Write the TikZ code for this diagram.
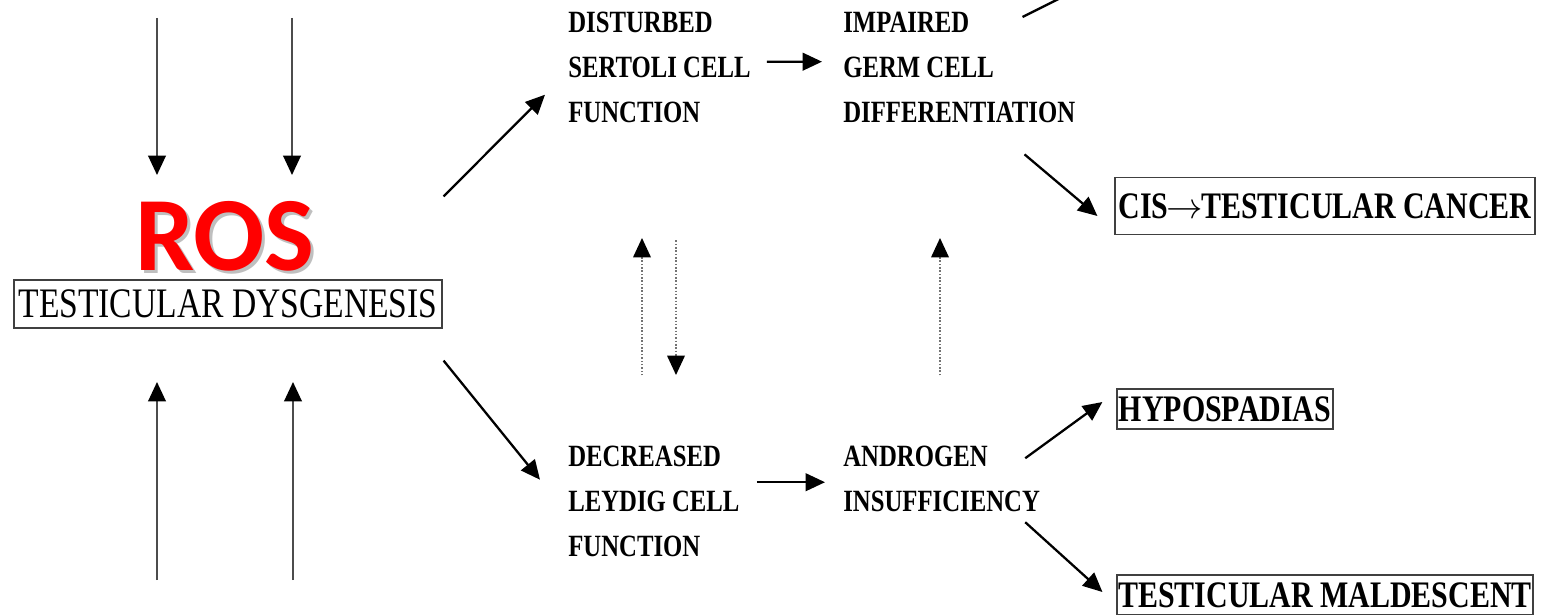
\documentclass[tikz,border=0pt]{standalone}
\usepackage{fontspec}
\setmainfont{Liberation Serif}
\newfontfamily\flowfont[FakeStretch=0.8]{Liberation Serif}
\newfontfamily\rosfont{Carlito}
\usetikzlibrary{arrows.meta,calc}
\definecolor{rosred}{RGB}{255,0,0}
\tikzset{
  flow/.style={anchor=north west, inner sep=0pt, align=left,
    font=\flowfont\bfseries\fontsize{17.6}{25.6}\selectfont},
  outcome/.style={draw=black!75, line width=0.7pt, inner sep=0pt,
    font=\flowfont\bfseries\fontsize{21.3}{24}\selectfont},
  arr/.style={line width=1.3pt, -{Triangle[length=11pt,width=10pt]}},
  sidearr/.style={line width=1.1pt, draw=black!70, -{Triangle[length=11pt,width=10pt,color=black]}},
  dotarr/.style={line width=0.9pt, draw=black!55, densely dotted, -{Triangle[length=11pt,width=10pt,color=black]}},
  rostext/.style={font=\rosfont\bfseries\fontsize{60}{60}\selectfont, inner sep=0pt, text depth=0pt},
}
\begin{document}
\begin{tikzpicture}[x=0.02cm,y=-0.02cm]
\useasboundingbox (0,0) rectangle (1559,615);
\fill[white] (0,0) rectangle (1559,615);

% ROS with soft shadow
\node[rostext, text=black!25] at (228,239) {ROS};
\node (ros) [rostext, text=rosred] at (225,236) {ROS};

% central box
\node (td) [draw=black!75, line width=0.7pt, minimum width=8.56cm, minimum height=0.96cm, inner sep=0pt,
  font=\flowfont\fontsize{23.9}{26}\selectfont] at (228,304) {TESTICULAR DYSGENESIS};

% flow text blocks
\node (sertoli) [flow] at (568,12) {DISTURBED\\SERTOLI CELL\\FUNCTION};
\node (germ) [flow] at (843,12) {IMPAIRED\\GERM CELL\\DIFFERENTIATION};
\node (leydig) [flow] at (568,446) {DECREASED\\LEYDIG CELL\\FUNCTION};
\node (androgen) [flow] at (843,446) {ANDROGEN\\INSUFFICIENCY};

% outcome boxes
\node (cis) [outcome, minimum width=8.4cm, minimum height=1.14cm] at (1325,206) {CIS\kern-0.05em$\rightarrow$\kern-0.05em TESTICULAR CANCER};
\node (hypo) [outcome, minimum width=4.32cm, minimum height=0.8cm] at (1225,409) {HYPOSPADIAS};
\node (mald) [outcome, minimum width=8.32cm, minimum height=0.8cm] at (1325,595) {TESTICULAR MALDESCENT};

% side arrows into ROS
\coordinate (d1) at (157,18);
\coordinate (d2) at (292,18);
\coordinate (u1) at (157,580);
\coordinate (u2) at (293,580);
\draw[sidearr] (d1) -- (d1 |- 0,175);
\draw[sidearr] (d2) -- (d2 |- 0,175);
\draw[sidearr] (u1) -- (u1 |- 0,382);
\draw[sidearr] (u2) -- (u2 |- 0,382);

% main arrows
\draw[arr] ($(td.north east)+(1,-83)$) -- ($(sertoli.west)+(-23,27)$);
\draw[arr] ($(td.south east)+(1,32)$) -- ($(leydig.west)+(-28,-22)$);
\draw[arr] ($(sertoli.east)+(16,-6)$) -- ($(germ.west)+(-21,-6)$);
\draw[arr] ($(leydig.east |- androgen.west)+(17,3)$) -- ($(androgen.west)+(-18,3)$);

% dotted feedback arrows
\draw[dotarr] (sertoli.south -| 642,0) ++(0,252) coordinate (a1) -- (a1 |- 0,238);
\draw[dotarr] (sertoli.south -| 676,0) ++(0,117) coordinate (a2) -- (a2 |- 0,375);
\draw[dotarr] (germ.south -| 940,0) ++(0,252) coordinate (a3) -- (a3 |- 0,238);

% to outcomes
\draw[arr] ($(germ.south east)+(-51,31)$) -- ($(cis.west)+(-17,10)$);
\draw[arr] ($(androgen.east)+(-15,-21)$) -- ($(hypo.west)+(-14,-7)$);
\draw[arr] ($(androgen.east)+(-15,43)$) -- ($(mald.west)+(-14,-3)$);
\draw[line width=1.3pt] ($(germ.north east)+(-53,5)$) -- ++(60,-30);
\end{tikzpicture}
\end{document}
